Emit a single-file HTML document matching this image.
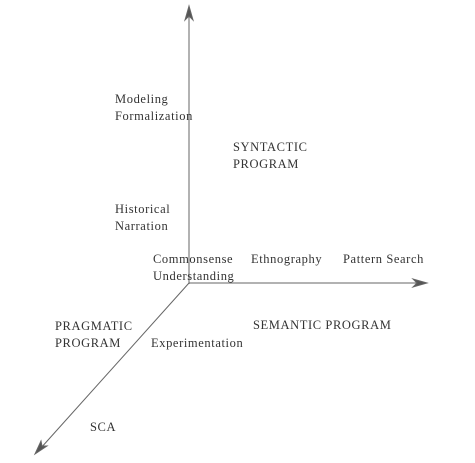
<!DOCTYPE html>
<html><head><style>
body{margin:0;background:#fff;width:475px;height:463px;position:relative;overflow:hidden;font-family:"Liberation Serif",serif;color:#333;font-size:12.5px;letter-spacing:0.6px}
.t{position:absolute;line-height:17px;white-space:nowrap}
svg{position:absolute;left:0;top:0}
</style></head><body>
<svg width="475" height="463">
<g stroke="#666" stroke-width="1" fill="#555">
<line x1="189" y1="12" x2="189" y2="284"/>
<polygon points="189,6 185,20 189,16 193,20"/>
<line x1="189" y1="283" x2="420" y2="283"/>
<polygon points="427,283 413,279 417,283 413,287"/>
<line x1="189" y1="283" x2="40" y2="449"/>
<polygon points="35,454 47,446 42,446 41,441"/>
</g>
</svg>
<div class="t" style="left:115px;top:91px">Modeling<br>Formalization</div>
<div class="t" style="left:233px;top:139px">SYNTACTIC<br>PROGRAM</div>
<div class="t" style="left:115px;top:201px">Historical<br>Narration</div>
<div class="t" style="left:153px;top:251px">Commonsense<br>Understanding</div>
<div class="t" style="left:251px;top:251px">Ethnography</div>
<div class="t" style="left:343px;top:251px">Pattern Search</div>
<div class="t" style="left:55px;top:318px">PRAGMATIC<br>PROGRAM</div>
<div class="t" style="left:253px;top:317px">SEMANTIC PROGRAM</div>
<div class="t" style="left:151px;top:335px">Experimentation</div>
<div class="t" style="left:90px;top:419px">SCA</div>
</body></html>
